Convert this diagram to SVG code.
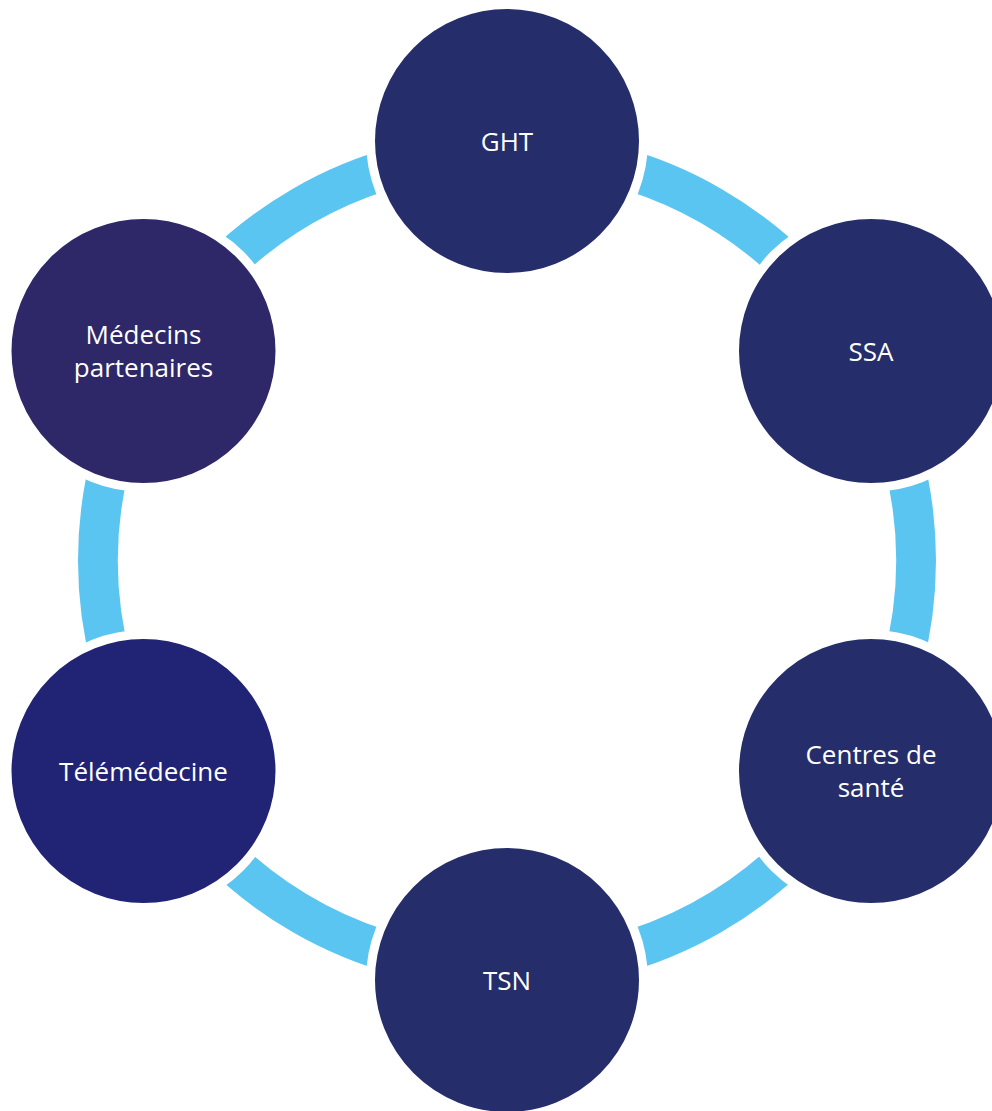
<svg xmlns="http://www.w3.org/2000/svg" width="992" height="1111" viewBox="0 0 992 1111">
<style>
.arc{fill:none;stroke:#5BC5F1;stroke-width:40}
.node{stroke:#FFFFFF;stroke-width:9}
.lbl{fill:#FFFFFF;font-family:"Open Sans","Noto Sans","Liberation Sans",sans-serif;font-size:26px;text-anchor:middle}
</style>
<rect width="992" height="1111" fill="#FFFFFF"/>
<g id="connectors">
<path class="arc" d="M612.86,165.44 A409,409 0 0 1 796.21,271.29"/>
<path class="arc" d="M902.06,454.64 A409,409 0 0 1 902.06,666.36"/>
<path class="arc" d="M796.21,849.71 A409,409 0 0 1 612.86,955.56"/>
<path class="arc" d="M401.14,955.56 A409,409 0 0 1 217.79,849.71"/>
<path class="arc" d="M111.94,666.36 A409,409 0 0 1 111.94,454.64"/>
<path class="arc" d="M217.79,271.29 A409,409 0 0 1 401.14,165.44"/>
</g>
<g id="node-ght">
<circle class="node" cx="507" cy="141" r="136.5" fill="#252E6B"/>
<text class="lbl" x="507" y="150.5">GHT</text>
</g>
<g id="node-ssa">
<circle class="node" cx="871" cy="351" r="136.5" fill="#252E6B"/>
<text class="lbl" x="871" y="360.5">SSA</text>
</g>
<g id="node-centres">
<circle class="node" cx="871" cy="771" r="136.5" fill="#252E6B"/>
<text class="lbl" x="871" y="764">Centres de</text>
<text class="lbl" x="871" y="797">santé</text>
</g>
<g id="node-tsn">
<circle class="node" cx="507" cy="980" r="136.5" fill="#252E6B"/>
<text class="lbl" x="507" y="989.5">TSN</text>
</g>
<g id="node-telemedecine">
<circle class="node" cx="143.5" cy="771" r="136.5" fill="#212375"/>
<text class="lbl" x="143.5" y="780.5">Télémédecine</text>
</g>
<g id="node-medecins">
<circle class="node" cx="143.5" cy="351" r="136.5" fill="#2E2768"/>
<text class="lbl" x="143.5" y="344">Médecins</text>
<text class="lbl" x="143.5" y="377">partenaires</text>
</g>
</svg>
